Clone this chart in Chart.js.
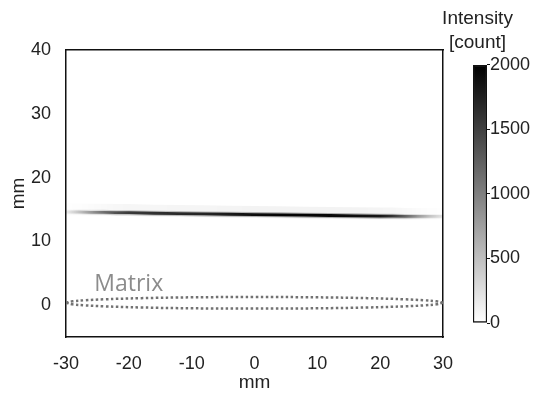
<!DOCTYPE html>
<html lang="en">
<head>
<meta charset="UTF-8">
<title>Intensity map</title>
<style>
  body { margin: 0; background: #fff; }
  .wrap { position: relative; width: 533px; height: 394px; }
  #map { position: absolute; left: 0; top: 0; }
  #bar { position: absolute; left: 422px; top: 0; }
</style>
</head>
<body>
<div class="wrap">
  <canvas id="map" width="533" height="394"></canvas>
  <canvas id="bar" width="111" height="394"></canvas>
</div>
<script src="https://cdn.jsdelivr.net/npm/chart.js"></script>
<script>
// axes
const xTicks = [-30, -20, -10, 0, 10, 20, 30];
const yTicks = [0, 10, 20, 30, 40];
const xRange = [-30, 30];
const yRange = [-5, 40];

// bright band near 14 mm: position (mm) and intensity (count) along x
const bandX = [-30, -28, -26, -24, -22, -20, -16, -12, -8, -4, 0, 4, 8, 12, 16, 20, 22, 24, 26, 28, 30];
const bandY = [14.6, 14.6, 14.55, 14.55, 14.5, 14.5, 14.4, 14.35, 14.3, 14.25, 14.2, 14.15, 14.1, 14.05, 14.0, 13.95, 13.95, 13.9, 13.9, 13.9, 13.9];
const bandI = [100, 350, 650, 950, 1200, 1400, 1500, 1550, 1600, 1700, 1850, 1950, 1950, 1900, 1850, 1750, 1450, 1050, 650, 350, 150];

// dotted outline of the matrix
const matrixX = [-30, -29, -27, -24, -18, -10, 0, 10, 18, 24, 27, 29, 30];
const matrixTop = [0.36, 0.59, 0.76, 0.91, 1.09, 1.22, 1.27, 1.22, 1.09, 0.91, 0.76, 0.59, 0.36];
const matrixBottom = [0.36, 0.13, -0.04, -0.19, -0.37, -0.5, -0.55, -0.5, -0.37, -0.19, -0.04, 0.13, 0.36];
const matrixLabel = 'Matrix';
const matrixLabelAt = [-25.5, 2.2];

// colour bar
const barRange = [0, 2000];
const barTicks = [0, 500, 1000, 1500, 2000];
const barTitle = ['Intensity', '[count]'];

const tickFont = { family: 'Liberation Sans', size: 18 };
const ink = '#222';

// horizontal gradient following the band intensity
function bandGradient(chart, alpha) {
  const { ctx, chartArea, scales } = chart;
  if (!chartArea) return 'rgba(0,0,0,0)';
  const x0 = scales.x.getPixelForValue(bandX[0]);
  const x1 = scales.x.getPixelForValue(bandX[bandX.length - 1]);
  const g = ctx.createLinearGradient(x0, 0, x1, 0);
  bandX.forEach((v, i) => {
    const t = (scales.x.getPixelForValue(v) - x0) / (x1 - x0);
    g.addColorStop(t, 'rgba(0,0,0,' + (alpha * bandI[i] / barRange[1]).toFixed(3) + ')');
  });
  return g;
}

function bandLayer(width, alpha, shift) {
  return {
    data: bandX.map((x, i) => ({ x: x, y: bandY[i] + shift })),
    showLine: true,
    pointRadius: 0,
    borderWidth: width,
    borderCapStyle: 'round',
    borderColor: ctx => bandGradient(ctx.chart, alpha)
  };
}

function outline(ys) {
  return {
    data: matrixX.map((x, i) => ({ x: x, y: ys[i] })),
    showLine: true,
    pointRadius: 0,
    tension: 0.4,
    borderWidth: 2.5,
    borderDash: [2.5, 2.5],
    borderColor: '#727272'
  };
}

const matrixText = {
  id: 'matrixText',
  afterDatasetsDraw(chart) {
    const { ctx, scales: { x, y } } = chart;
    ctx.save();
    ctx.font = '23px "Open Sans"';
    ctx.fillStyle = '#8c8c8c';
    ctx.textBaseline = 'alphabetic';
    ctx.fillText(matrixLabel, x.getPixelForValue(matrixLabelAt[0]), y.getPixelForValue(matrixLabelAt[1]));
    ctx.restore();
  }
};

const frame = { display: true, color: '#111', width: 1.5 };

new Chart(document.getElementById('map'), {
  type: 'scatter',
  data: {
    datasets: [
      bandLayer(12, 0.05, 0.4),
      bandLayer(5, 0.3, 0),
      bandLayer(2.8, 1, 0),
      outline(matrixTop),
      outline(matrixBottom)
    ]
  },
  options: {
    responsive: false,
    animation: false,
    devicePixelRatio: 1,
    layout: { padding: { top: 50, right: 90, left: 0, bottom: 0 } },
    plugins: { legend: { display: false }, tooltip: { enabled: false } },
    scales: {
      x: {
        type: 'linear', position: 'bottom', min: xRange[0], max: xRange[1],
        afterBuildTicks: s => { s.ticks = xTicks.map(v => ({ value: v })); },
        afterFit: s => { s.height = 57; },
        grid: { display: false },
        border: frame,
        ticks: { font: tickFont, color: ink, padding: 8, maxRotation: 0, autoSkip: false },
        title: { display: true, text: 'mm', font: { family: 'Liberation Sans', size: 19 }, color: ink, padding: { top: 0, bottom: 0 } }
      },
      y: {
        type: 'linear', position: 'left', min: yRange[0], max: yRange[1],
        afterBuildTicks: s => { s.ticks = yTicks.map(v => ({ value: v })); },
        afterFit: s => { s.width = 66; },
        grid: { display: false },
        border: frame,
        ticks: { font: tickFont, color: ink, padding: 7, autoSkip: false },
        title: { display: true, text: 'mm', font: { family: 'Liberation Sans', size: 19 }, color: ink, padding: { top: 7, bottom: 0 } }
      },
      xTop: {
        type: 'linear', axis: 'x', position: 'top', min: xRange[0], max: xRange[1],
        afterFit: s => { s.height = 0; },
        grid: { display: false }, border: frame, ticks: { display: false }
      },
      yRight: {
        type: 'linear', axis: 'y', position: 'right', min: yRange[0], max: yRange[1],
        afterFit: s => { s.width = 0; },
        grid: { display: false }, border: frame, ticks: { display: false }
      }
    }
  },
  plugins: [matrixText]
});

// colour bar
new Chart(document.getElementById('bar'), {
  type: 'bar',
  data: {
    labels: [''],
    datasets: [{
      data: [barRange],
      yAxisID: 'y',
      barPercentage: 1,
      categoryPercentage: 1,
      borderWidth: 1.5,
      borderColor: '#111',
      borderSkipped: false,
      backgroundColor: ctx => {
        const { chart } = ctx;
        if (!chart.chartArea) return '#888';
        const y = chart.scales.y;
        const g = chart.ctx.createLinearGradient(0, y.getPixelForValue(barRange[0]), 0, y.getPixelForValue(barRange[1]));
        g.addColorStop(0, '#ffffff');
        g.addColorStop(1, '#000000');
        return g;
      }
    }]
  },
  options: {
    responsive: false,
    animation: false,
    devicePixelRatio: 1,
    layout: { padding: { top: 0, right: 0, left: 0, bottom: 71 } },
    plugins: {
      legend: { display: false },
      tooltip: { enabled: false },
      title: {
        display: true, text: barTitle, color: ink,
        font: { family: 'Liberation Sans', size: 19, weight: 'normal', lineHeight: 1.263 },
        padding: { top: 7, bottom: 10 }
      }
    },
    scales: {
      x: { display: false },
      yPad: {
        type: 'linear', position: 'left', axis: 'y',
        afterFit: s => { s.width = 51; },
        grid: { display: false }, border: { display: false }, ticks: { display: false }
      },
      y: {
        type: 'linear', position: 'right', min: barRange[0], max: barRange[1],
        afterBuildTicks: s => { s.ticks = barTicks.map(v => ({ value: v })); },
        afterFit: s => { s.width = 46; },
        grid: { display: true, drawOnChartArea: false, tickLength: 3, color: '#111' },
        border: { display: false },
        ticks: { font: tickFont, color: ink, padding: 0, callback: v => String(v) }
      }
    }
  }
});
</script>
</body>
</html>
